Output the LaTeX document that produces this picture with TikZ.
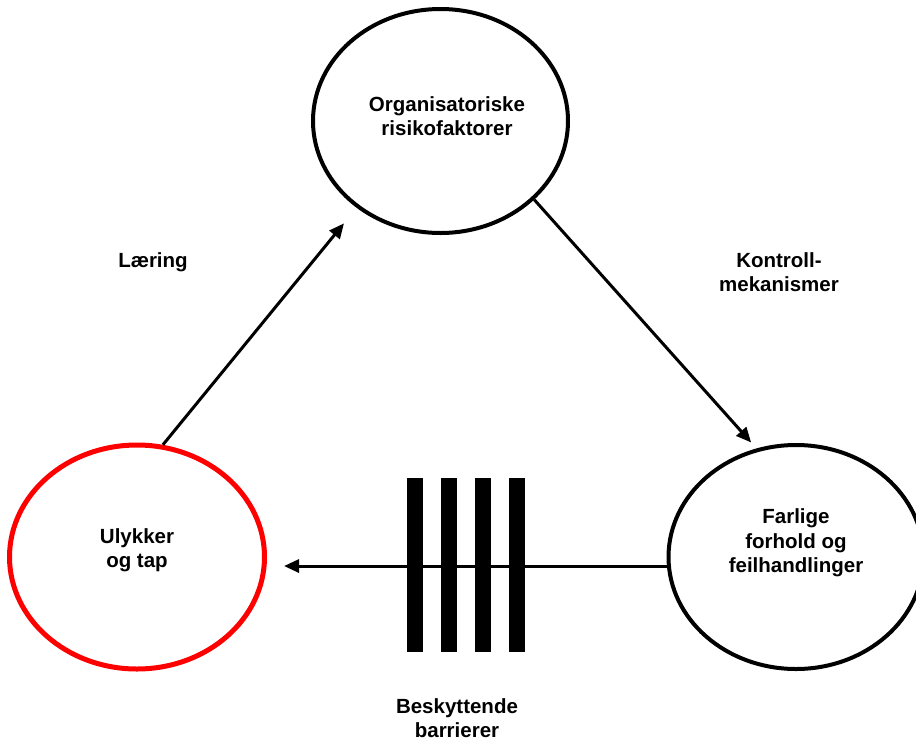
\documentclass[tikz,border=0pt]{standalone}
\usepackage{fontspec}
\setmainfont{Liberation Sans}
\usetikzlibrary{arrows.meta,shapes.geometric}
\begin{document}
\begin{tikzpicture}[x=1pt,y=-1pt,
  ell/.style={ellipse,draw=black,line width=4pt,inner sep=0pt,minimum width=255pt,minimum height=224pt},
  redell/.style={ell,draw=red,line width=5pt},
  lbl/.style={align=center,font=\fontsize{20.5}{24.5}\selectfont\bfseries,inner sep=0pt},
  conn/.style={line width=3pt,-{Triangle[length=15pt,width=13pt]}},
  bar/.style={fill=black,draw=none,minimum width=16pt,minimum height=174pt,inner sep=0pt}
]
\useasboundingbox (0,0) rectangle (916,742);
% ellipses
\node[ell] (T) at (440.5,121) {};
\node[redell] (L) at (137,557) {};
\node[ell] (R) at (796,557) {};
% texts in ellipses
\node[lbl] (Tt) at (447,116) {Organisatoriske\\risikofaktorer};
\node[lbl] (Lt) at (137,550) {Ulykker\\og tap};
\node[lbl] (Rt) at (796,543) {Farlige\\forhold og\\feilhandlinger};
% labels
\node[lbl] (la) at (153,262) {Læring};
\node[lbl] (kb) at (779,272) {Kontroll-\\mekanismer};
\node[lbl] (bb) at (457,718) {Beskyttende\\barrierer};
% connectors
\draw[conn,shorten >=20pt] (L.77.7) -- (T.226.6);
\draw[conn,shorten >=8pt] (T.-40.6) -- (R.110.9);
\draw[conn,shorten >=17pt] (R.184) -- (R.184 -| L.east);
% barriers
\node[bar] (b1) at (415,565) {};
\node[bar] (b2) at (449,565) {};
\node[bar] (b3) at (483,565) {};
\node[bar] (b4) at (517,565) {};
\end{tikzpicture}
\end{document}
